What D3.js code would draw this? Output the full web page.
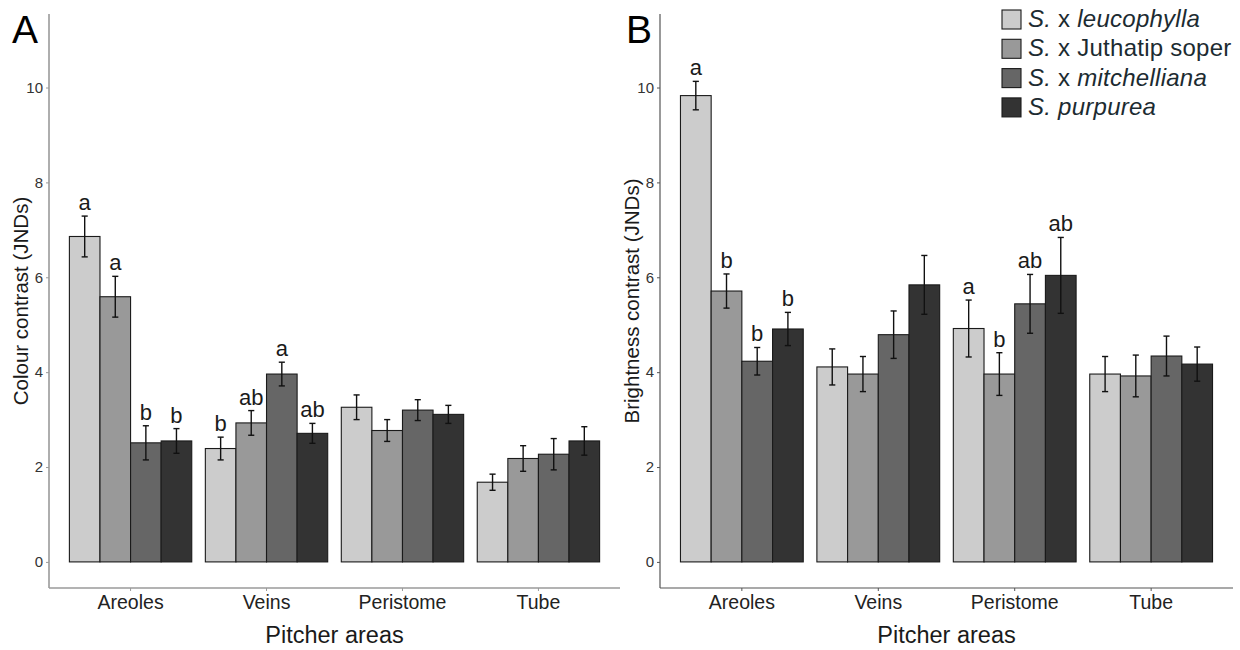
<!DOCTYPE html>
<html>
<head>
<meta charset="utf-8">
<script src="https://cdn.jsdelivr.net/npm/d3@7"></script>
<style>
  html, body { margin: 0; padding: 0; background: #fff; }
  svg { display: block; font-family: "Liberation Sans", Arial, sans-serif; }
</style>
</head>
<body>
<svg id="chart" width="1240" height="650"></svg>
<script>
// ---------- data ----------
const categories = ["Areoles", "Veins", "Peristome", "Tube"];
const speciesKeys = ["leucophylla", "juthatip", "mitchelliana", "purpurea"];
// legend label pieces: [text, italic?]
const speciesLabels = [
  [["S.", true], [" x ", false], ["leucophylla", true]],
  [["S.", true], [" x Juthatip soper", false]],
  [["S.", true], [" x ", false], ["mitchelliana", true]],
  [["S. purpurea", true]]
];
const fills = ["#cccccc", "#999999", "#666666", "#333333"];
const yTicks = [0, 2, 4, 6, 8, 10];

// Panel A: colour contrast (rows = species, cols = categories)
const colourMean = [
  [6.86, 2.39, 3.26, 1.68],
  [5.59, 2.93, 2.77, 2.18],
  [2.51, 3.96, 3.20, 2.27],
  [2.55, 2.71, 3.11, 2.55]
];
const colourSE = [
  [0.43, 0.24, 0.26, 0.17],
  [0.43, 0.26, 0.23, 0.27],
  [0.36, 0.25, 0.22, 0.33],
  [0.26, 0.21, 0.19, 0.30]
];
const colourLetters = [
  ["a", "b", "", ""],
  ["a", "ab", "", ""],
  ["b", "a", "", ""],
  ["b", "ab", "", ""]
];

// Panel B: brightness contrast
const brightMean = [
  [9.83, 4.11, 4.92, 3.96],
  [5.71, 3.96, 3.96, 3.92],
  [4.23, 4.79, 5.44, 4.34],
  [4.91, 5.84, 6.04, 4.17]
];
const brightSE = [
  [0.30, 0.38, 0.60, 0.37],
  [0.36, 0.37, 0.45, 0.44],
  [0.29, 0.50, 0.62, 0.42],
  [0.35, 0.62, 0.80, 0.36]
];
const brightLetters = [
  ["a", "", "a", ""],
  ["b", "", "b", ""],
  ["b", "", "ab", ""],
  ["b", "", "ab", ""]
];

// ---------- drawing ----------
const svg = d3.select("#chart");
const FONT = "'Liberation Sans', Arial, sans-serif";

function panel(opts) {
  const { x0, x1, top, bottom, means, ses, letters, yTitle, tag, tagX, axisColor, axisWidth } = opts;
  const g = svg.append("g");

  const x = d3.scaleBand().domain(categories).range([x0, x1])
    .paddingInner(0.1).paddingOuter(0.15);
  const xs = d3.scaleBand().domain(speciesKeys).range([0, x.bandwidth()]).padding(0);
  const y = d3.scaleLinear().domain([-0.55, 11.55]).range([bottom, top]);

  const rows = [];
  speciesKeys.forEach((s, si) => {
    categories.forEach((c, ci) => {
      rows.push({ s, si, c, mean: means[si][ci], se: ses[si][ci], letter: letters[si][ci] });
    });
  });
  const cx = d => x(d.c) + xs(d.s) + xs.bandwidth() / 2;

  // bars
  g.selectAll("rect.bar").data(rows).enter().append("rect")
    .attr("class", "bar")
    .attr("x", d => x(d.c) + xs(d.s))
    .attr("width", xs.bandwidth())
    .attr("y", d => y(d.mean))
    .attr("height", d => y(0) - y(d.mean))
    .attr("fill", d => fills[d.si])
    .attr("stroke", "#1a1a1a")
    .attr("stroke-width", 1.1);

  // error bars
  const capW = xs.bandwidth() * 0.2;
  const eg = g.selectAll("g.err").data(rows).enter().append("g").attr("class", "err")
    .attr("stroke", "#111").attr("stroke-width", 1.4);
  eg.append("line")
    .attr("x1", cx).attr("x2", cx)
    .attr("y1", d => y(d.mean + d.se))
    .attr("y2", d => y(d.mean - d.se));
  eg.append("line")
    .attr("x1", d => cx(d) - capW / 2).attr("x2", d => cx(d) + capW / 2)
    .attr("y1", d => y(d.mean + d.se)).attr("y2", d => y(d.mean + d.se));
  eg.append("line")
    .attr("x1", d => cx(d) - capW / 2).attr("x2", d => cx(d) + capW / 2)
    .attr("y1", d => y(d.mean - d.se)).attr("y2", d => y(d.mean - d.se));

  // letters
  g.selectAll("text.letter").data(rows.filter(d => d.letter)).enter().append("text")
    .attr("class", "letter")
    .attr("x", cx)
    .attr("y", d => y(d.mean + d.se) - 6)
    .attr("text-anchor", "middle")
    .attr("font-size", 22)
    .attr("fill", "#1a1a1a")
    .text(d => d.letter);

  // axes
  const yAxis = g.append("g").attr("transform", `translate(${x0},0)`)
    .call(d3.axisLeft(y).tickValues(yTicks).tickSize(3).tickPadding(3).tickFormat(d3.format("d")));
  yAxis.attr("font-family", FONT).attr("font-size", 15);
  yAxis.select(".domain").attr("d", `M0,${top}V${bottom}`)
    .attr("stroke", axisColor).attr("stroke-width", axisWidth);
  yAxis.selectAll(".tick line").attr("stroke", axisColor);
  yAxis.selectAll(".tick text").attr("fill", "#333");

  const xAxis = g.append("g").attr("transform", `translate(0,${bottom})`)
    .call(d3.axisBottom(x).tickSize(3).tickPadding(4));
  xAxis.attr("font-family", FONT).attr("font-size", 19.5);
  xAxis.select(".domain").attr("d", `M${x0},0H${x1}`)
    .attr("stroke", axisColor).attr("stroke-width", axisWidth);
  xAxis.selectAll(".tick line").attr("stroke", axisColor);
  xAxis.selectAll(".tick text").attr("fill", "#222");

  // axis titles
  g.append("text")
    .attr("transform", `translate(${x0 - 21},${(top + bottom) / 2}) rotate(-90)`)
    .attr("text-anchor", "middle")
    .attr("font-size", 20.5)
    .attr("fill", "#1a1a1a")
    .text(yTitle);
  g.append("text")
    .attr("x", (x0 + x1) / 2).attr("y", 643)
    .attr("text-anchor", "middle")
    .attr("font-size", 23.5)
    .attr("fill", "#1a1a1a")
    .text("Pitcher areas");

  // panel tag
  g.append("text")
    .attr("x", tagX).attr("y", 43)
    .attr("font-size", 39)
    .attr("fill", "#000")
    .text(tag);
}

panel({
  x0: 49, x1: 620, top: 14, bottom: 588,
  means: colourMean, ses: colourSE, letters: colourLetters,
  yTitle: "Colour contrast (JNDs)", tag: "A", tagX: 12,
  axisColor: "#9a9a9a", axisWidth: 1.6
});
panel({
  x0: 660, x1: 1233, top: 14, bottom: 588,
  means: brightMean, ses: brightSE, letters: brightLetters,
  yTitle: "Brightness contrast (JNDs)", tag: "B", tagX: 626,
  axisColor: "#555", axisWidth: 1.2
});

// legend
const legend = svg.append("g").attr("transform", "translate(1002,10)");
const items = legend.selectAll("g.item").data(speciesLabels).enter().append("g")
  .attr("class", "item")
  .attr("transform", (d, i) => `translate(0,${i * 29.3})`);
items.append("rect")
  .attr("width", 19).attr("height", 19)
  .attr("fill", (d, i) => fills[i])
  .attr("stroke", "#1a1a1a").attr("stroke-width", 1.1);
const lt = items.append("text")
  .attr("x", 26).attr("y", 17)
  .attr("font-size", 24)
  .attr("letter-spacing", 0.25)
  .attr("fill", "#1c2b31");
lt.selectAll("tspan").data(d => d).enter().append("tspan")
  .attr("font-style", d => d[1] ? "italic" : "normal")
  .attr("xml:space", "preserve")
  .text(d => d[0]);
</script>
</body>
</html>
